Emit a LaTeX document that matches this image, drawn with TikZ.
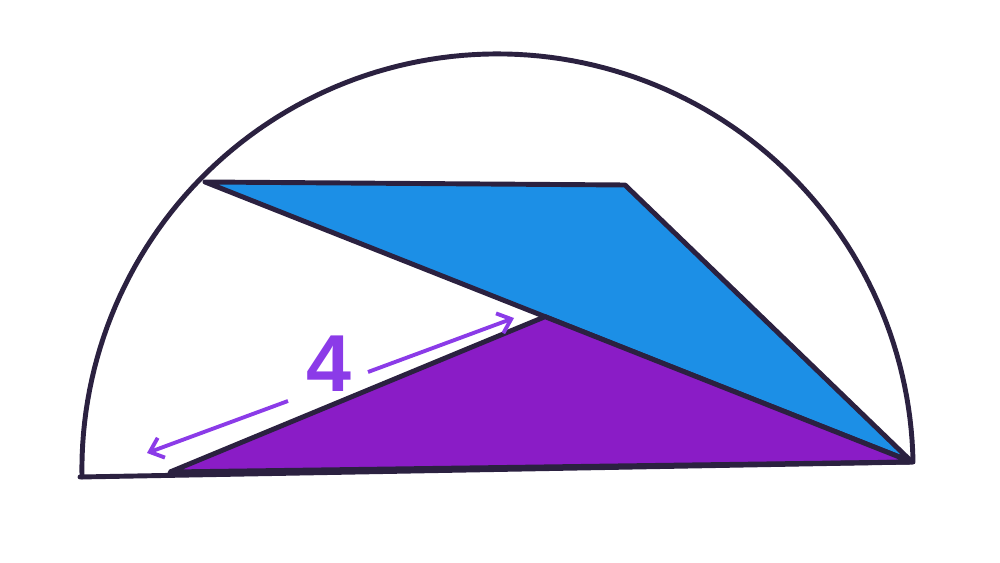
\documentclass[tikz,border=0pt]{standalone}
\usepackage{fontspec}
\setsansfont{Liberation Sans}
\usetikzlibrary{arrows.meta, calc}
\definecolor{inkline}{HTML}{2B2140}
\definecolor{blueink}{HTML}{1C8FE6}
\definecolor{purpleink}{HTML}{8A1CC6}
\definecolor{arrowink}{HTML}{8B3BE8}
\tikzset{
    outline/.style={draw=inkline, line width=2.8pt, line join=round, line cap=round},
    measure/.style={draw=arrowink, line width=2.2pt, -{Straight Barb[length=7pt, width=12pt]}}
}
\begin{document}
\begin{tikzpicture}[x=0.02cm, y=-0.02cm]
        \useasboundingbox (0, 0) rectangle (1000, 563);

        \coordinate (A) at (80, 477);
        \coordinate (B) at (912, 462);
        \coordinate (L) at (205, 182);
        \coordinate (T) at (625, 185);
        \coordinate (P) at ($(L)!0.481!(B)$);
        \coordinate (Q) at (170, 472);

        \filldraw[outline, fill=blueink] (L) -- (T) -- (B) -- cycle;
        \filldraw[outline, fill=purpleink] (Q) -- (P) -- (B) -- cycle;

        \draw[outline, domain=1.03:181.03, samples=120] plot ({497.5 + 415.6 * cos(\x)}, {469.5 - 415.6 * sin(\x)});
        \draw[outline] (A) -- (B);

        \node[text=arrowink, font=\sffamily\bfseries\fontsize{46}{46}\selectfont] (four) at (329, 364) {4};
        \coordinate (m1) at (288, 401);
        \coordinate (m2) at (368, 372);
        \draw[measure] (m1) -- (147, 453);
        \draw[measure] (m2) -- (514, 318);
\end{tikzpicture}
\end{document}
